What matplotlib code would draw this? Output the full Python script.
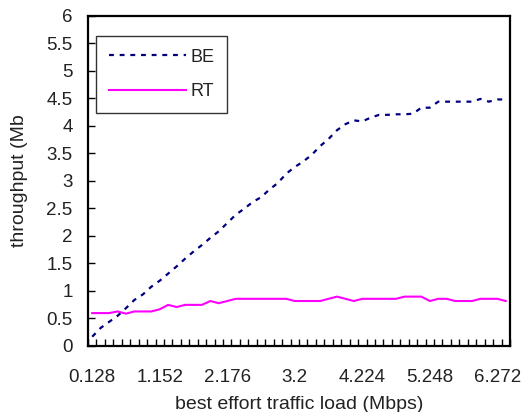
import numpy as np
import matplotlib
matplotlib.use("Agg")
import matplotlib.pyplot as plt
from matplotlib.ticker import FixedLocator, FuncFormatter

plt.rcParams["font.family"] = ["Liberation Sans", "DejaVu Sans"]

# offered best effort load, one category per 0.128 Mbps step
load = np.arange(1, 51) * 0.128
tick_labels = ["0.128", "1.152", "2.176", "3.2", "4.224", "5.248", "6.272"]

# throughput values (Mb)
be = [0.16, 0.32, 0.43, 0.54, 0.68, 0.83, 0.93, 1.07, 1.18, 1.31,
      1.44, 1.58, 1.71, 1.83, 1.96, 2.08, 2.23, 2.38, 2.49, 2.61,
      2.70, 2.84, 2.96, 3.13, 3.25, 3.35, 3.47, 3.63, 3.76, 3.92,
      4.03, 4.10, 4.08, 4.15, 4.20, 4.20, 4.21, 4.21, 4.22, 4.33,
      4.33, 4.44, 4.44, 4.44, 4.44, 4.44, 4.49, 4.44, 4.48, 4.48]
rt = [0.59, 0.59, 0.59, 0.62, 0.58, 0.62, 0.62, 0.62, 0.66, 0.74,
      0.70, 0.74, 0.74, 0.74, 0.81, 0.77, 0.81, 0.85, 0.85, 0.85,
      0.85, 0.85, 0.85, 0.85, 0.81, 0.81, 0.81, 0.81, 0.85, 0.89,
      0.85, 0.81, 0.85, 0.85, 0.85, 0.85, 0.85, 0.89, 0.89, 0.89,
      0.81, 0.85, 0.85, 0.81, 0.81, 0.81, 0.85, 0.85, 0.85, 0.81]

text_color = "#222222"

fig = plt.figure(figsize=(5.32, 4.12), dpi=100)
ax = fig.add_axes([0.1654, 0.1614, 0.7932, 0.7998])

x = np.arange(1, len(load) + 1)
ax.plot(x, be, color="#000080", linewidth=1.6, linestyle=(0, (2.2, 2.6)), label="BE")
ax.plot(x, rt, color="#FF00FF", linewidth=1.5, label="RT")

ax.set_xlim(0.5, len(load) + 0.5)
ax.set_ylim(0, 6)

# category labels every 8th load value, tick marks on category boundaries
label_pos = [i + 1 for i, v in enumerate(load) if f"{v:g}" in tick_labels]
ax.xaxis.set_major_locator(FixedLocator(label_pos))
ax.set_xticklabels(tick_labels)
ax.xaxis.set_minor_locator(FixedLocator(np.arange(0.5, len(load) + 1, 1)))
ax.tick_params(axis="x", which="major", length=0, pad=17, labelsize=13.5, labelcolor=text_color)
ax.tick_params(axis="x", which="minor", direction="in", length=5, width=1, color="black")

ax.set_yticks(np.arange(0, 6.01, 0.5))
ax.yaxis.set_major_formatter(FuncFormatter(lambda v, p: f"{v:g}"))
ax.tick_params(axis="y", direction="in", length=5, width=1, pad=11, labelsize=13.5, labelcolor=text_color)

for spine in ["top", "right", "left", "bottom"]:
    ax.spines[spine].set_linewidth(1.6)
    ax.spines[spine].set_color("black")

ax.set_xlabel("best effort traffic load (Mbps)", fontsize=14, color=text_color, labelpad=7)
ax.set_ylabel("throughput (Mb", fontsize=14, color=text_color, labelpad=13)

leg = ax.legend(loc="upper left", bbox_to_anchor=(0.019, 0.939), borderaxespad=0,
                fontsize=13, frameon=True, fancybox=False, handlelength=4.3,
                handletextpad=0.25, labelspacing=0.95, borderpad=0.7)
leg.get_frame().set_edgecolor("black")
leg.get_frame().set_linewidth(1.0)
for t in leg.get_texts():
    t.set_color(text_color)

fig.savefig("out.png", dpi=100)
